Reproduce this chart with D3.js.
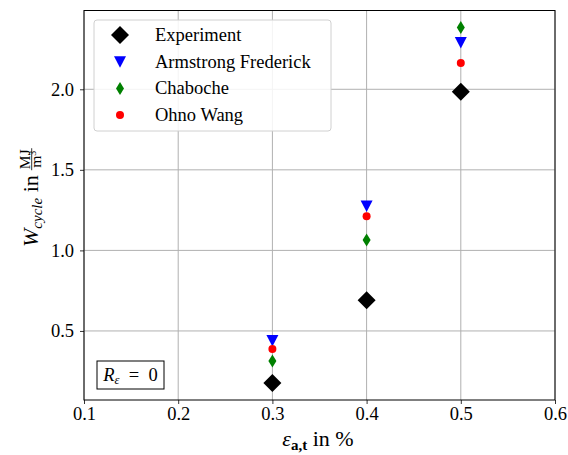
<!DOCTYPE html>
<html>
<head>
<meta charset="utf-8">
<script src="https://cdn.jsdelivr.net/npm/d3@7"></script>
<style>
  body { margin: 0; background: #fff; }
  svg text { font-family: "Liberation Serif", "DejaVu Serif", "Times New Roman", serif; white-space: pre; }
</style>
</head>
<body>
<script>
// data
var strains = [0.3, 0.4, 0.5];
var experiment = [0.177, 0.69, 1.985];
var armstrongFrederick = [0.44, 1.276, 2.29];
var chaboche = [0.314, 1.065, 2.384];
var ohnoWang = [0.388, 1.212, 2.163];
var seriesNames = ['Experiment', 'Armstrong Frederick', 'Chaboche', 'Ohno Wang'];
var xTicks = [0.1, 0.2, 0.3, 0.4, 0.5, 0.6];
var yTicks = [0.5, 1.0, 1.5, 2.0];

var width = 568, height = 455;
var margin = {top: 10.5, right: 13, bottom: 55, left: 84};
var fontSize = 18.5;

var svg = d3.select('body').append('svg')
  .attr('width', width)
  .attr('height', height);

var x = d3.scaleLinear().domain([0.1, 0.6]).range([margin.left, width - margin.right]);
var y = d3.scaleLinear().domain([0.0714, 2.489]).range([height - margin.bottom, margin.top]);

// grid
svg.append('g').selectAll('line').data(xTicks).enter().append('line')
  .attr('x1', function(d){ return x(d); }).attr('x2', function(d){ return x(d); })
  .attr('y1', y.range()[0]).attr('y2', y.range()[1])
  .attr('stroke', '#b0b0b0').attr('stroke-width', 1);
svg.append('g').selectAll('line').data(yTicks).enter().append('line')
  .attr('y1', function(d){ return y(d); }).attr('y2', function(d){ return y(d); })
  .attr('x1', x.range()[0]).attr('x2', x.range()[1])
  .attr('stroke', '#b0b0b0').attr('stroke-width', 1);

// axes
var xAxis = svg.append('g')
  .attr('transform', 'translate(0,' + y.range()[0] + ')')
  .call(d3.axisBottom(x).tickValues(xTicks).tickFormat(d3.format('.1f')).tickSizeInner(4).tickSizeOuter(0).tickPadding(3));
var yAxis = svg.append('g')
  .attr('transform', 'translate(' + x.range()[0] + ',0)')
  .call(d3.axisLeft(y).tickValues(yTicks).tickFormat(d3.format('.1f')).tickSizeInner(4).tickSizeOuter(0).tickPadding(6));
[xAxis, yAxis].forEach(function(a){
  a.attr('font-family', null).attr('font-size', null);
  a.select('.domain').remove();
  a.selectAll('text').attr('font-size', fontSize).attr('fill', '#000');
  a.selectAll('line').attr('stroke', '#000').attr('stroke-width', 0.8);
});

// frame
svg.append('rect')
  .attr('x', x.range()[0]).attr('y', y.range()[1])
  .attr('width', x.range()[1] - x.range()[0])
  .attr('height', y.range()[0] - y.range()[1])
  .attr('fill', 'none').attr('stroke', '#000').attr('stroke-width', 1);

// markers
var series = [
  {name: seriesNames[0], values: experiment, color: '#000', shape: 'diamond'},
  {name: seriesNames[1], values: armstrongFrederick, color: '#0000ff', shape: 'tri'},
  {name: seriesNames[2], values: chaboche, color: '#008000', shape: 'thin'},
  {name: seriesNames[3], values: ohnoWang, color: '#ff0000', shape: 'circle'}
];

function drawMarker(g, shape, color) {
  if (shape === 'diamond') {
    g.append('path').attr('d', 'M0,-9L9,0L0,9L-9,0Z').attr('fill', color);
  } else if (shape === 'tri') {
    g.append('path').attr('d', 'M-6,-5.5L6,-5.5L0,6Z').attr('fill', color);
  } else if (shape === 'thin') {
    g.append('path').attr('d', 'M0,-6.5L4,0L0,6.5L-4,0Z').attr('fill', color);
  } else {
    g.append('circle').attr('r', 4).attr('fill', color);
  }
}

series.forEach(function(s){
  s.values.forEach(function(v, i){
    var g = svg.append('g').attr('transform', 'translate(' + x(strains[i]) + ',' + y(v) + ')');
    drawMarker(g, s.shape, s.color);
  });
});

// legend
var legend = svg.append('g');
legend.append('rect')
  .attr('x', 94).attr('y', 20).attr('width', 237).attr('height', 111)
  .attr('rx', 3).attr('fill', '#fff').attr('fill-opacity', 0.85)
  .attr('stroke', '#d0d0d0').attr('stroke-width', 1);
series.forEach(function(s, i){
  var ly = 35 + i * 26.7;
  var g = legend.append('g').attr('transform', 'translate(120,' + ly + ')');
  drawMarker(g, s.shape, s.color);
  legend.append('text').attr('x', 155).attr('y', ly + 6)
    .attr('font-size', fontSize).text(s.name);
});

// R annotation
svg.append('rect').attr('x', 97).attr('y', 361).attr('width', 67).attr('height', 28)
  .attr('fill', '#fff').attr('stroke', '#000').attr('stroke-width', 1);
var rt = svg.append('text').attr('x', 130.5).attr('y', 381).attr('font-size', fontSize).attr('text-anchor', 'middle');
rt.append('tspan').attr('font-style', 'italic').text('R');
rt.append('tspan').attr('font-style', 'italic').attr('font-size', 12.5).attr('dy', 3).text('ε');
rt.append('tspan').attr('dy', -3).text('  =  0');

// x label
var xl = svg.append('text').attr('x', 318).attr('y', 446).attr('text-anchor', 'middle').attr('font-size', 22);
xl.append('tspan').attr('font-style', 'italic').text('ε');
xl.append('tspan').attr('font-weight', 'bold').attr('font-size', 15).attr('dy', 4).text('a,t');
xl.append('tspan').attr('dy', -4).text(' in %');

// y label
var yl = svg.append('g').attr('transform', 'translate(38,199) rotate(-90)');
var yt = yl.append('text').attr('x', -48).attr('y', 0).attr('font-size', 22);
yt.append('tspan').attr('font-style', 'italic').text('W');
yt.append('tspan').attr('font-style', 'italic').attr('font-size', 15).attr('dy', 4).text('cycle');
yt.append('tspan').attr('dy', -4).text(' in');
var fx = -48 + yt.node().getComputedTextLength() + 16;
yl.append('text').attr('x', fx).attr('y', -8.5).attr('font-size', 15.5).attr('text-anchor', 'middle').text('MJ');
yl.append('line').attr('x1', fx - 11).attr('x2', fx + 11).attr('y1', -6.3).attr('y2', -6.3).attr('stroke', '#000').attr('stroke-width', 0.8);
var den = yl.append('text').attr('x', fx).attr('y', 3).attr('font-size', 15.5).attr('text-anchor', 'middle');
den.append('tspan').text('m');
den.append('tspan').attr('font-size', 10).attr('dy', -5).text('3');
</script>
</body>
</html>
